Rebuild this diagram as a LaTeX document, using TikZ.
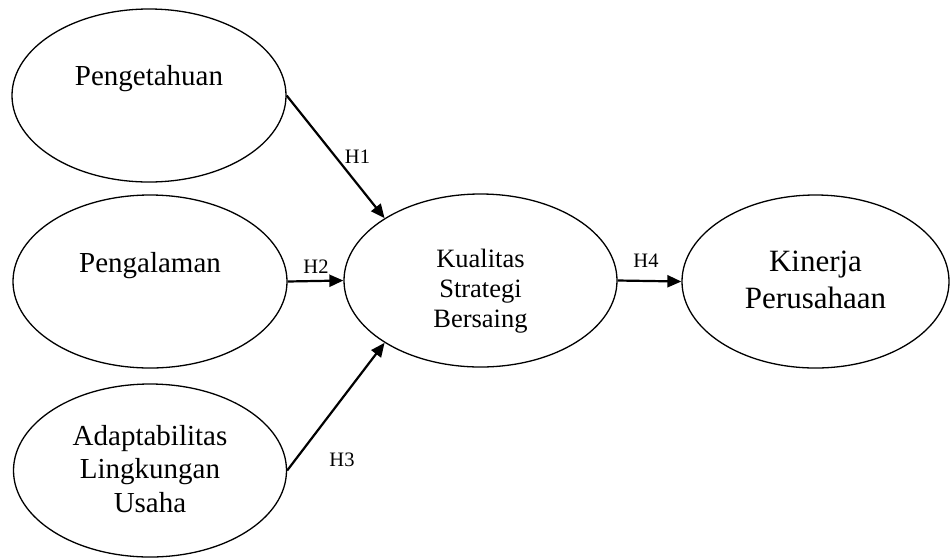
\documentclass[tikz,border=0pt]{standalone}
\usepackage{fontspec}
\setmainfont{Liberation Serif}
\usetikzlibrary{shapes.geometric,arrows.meta}

\begin{document}
\begin{tikzpicture}[x=1pt,y=-1pt,
  construct/.style={draw,ellipse,line width=1.3pt,inner sep=0pt},
  caption/.style={inner sep=0pt,align=center,anchor=base},
  path/.style={line width=2.2pt,-{Triangle[length=14pt,width=12pt]}},
  hyp/.style={inner sep=0pt,anchor=base,font=\fontsize{20.5}{24}\selectfont}]
\useasboundingbox (0,0) rectangle (950,558);

% latent constructs
\node[construct,minimum width=274pt,minimum height=173pt] (know) at (149,95.5) {};
\node[construct,minimum width=274pt,minimum height=173pt] (exp)  at (150,281.5) {};
\node[construct,minimum width=273pt,minimum height=173pt] (adapt) at (150,470.5) {};
\node[construct,minimum width=273pt,minimum height=173pt] (qual) at (480.5,280.5) {};
\node[construct,minimum width=267pt,minimum height=173pt] (perf) at (815.5,281.5) {};

% construct names (base = baseline of the last line)
\node[caption,font=\fontsize{29}{33.5}\selectfont] (tknow) at (149,85) {Pengetahuan};
\node[caption,font=\fontsize{29}{33.5}\selectfont] (texp) at (150,272) {Pengalaman};
\node[caption,font=\fontsize{29}{33.5}\selectfont] (tadapt) at (150,512)
  {Adaptabilitas\\Lingkungan\\Usaha};
\node[caption,font=\fontsize{26.5}{30}\selectfont] (tqual) at (480.5,327)
  {Kualitas\\Strategi\\Bersaing};
\node[caption,font=\fontsize{31}{37}\selectfont] (tperf) at (815.5,308)
  {Kinerja\\Perusahaan};

% hypothesised paths
\draw[path] (know.east) -- (qual.147);
\draw[path] (exp.east) -- (qual.west);
\draw[path] (adapt.east) -- (qual.213);
\draw[path] (qual.east) -- (perf.west);

% path labels
\node[hyp] (h1) at (357.5,163) {H1};
\node[hyp] (h2) at (316,273) {H2};
\node[hyp] (h3) at (342,466) {H3};
\node[hyp] (h4) at (646,267) {H4};
\end{tikzpicture}
\end{document}
